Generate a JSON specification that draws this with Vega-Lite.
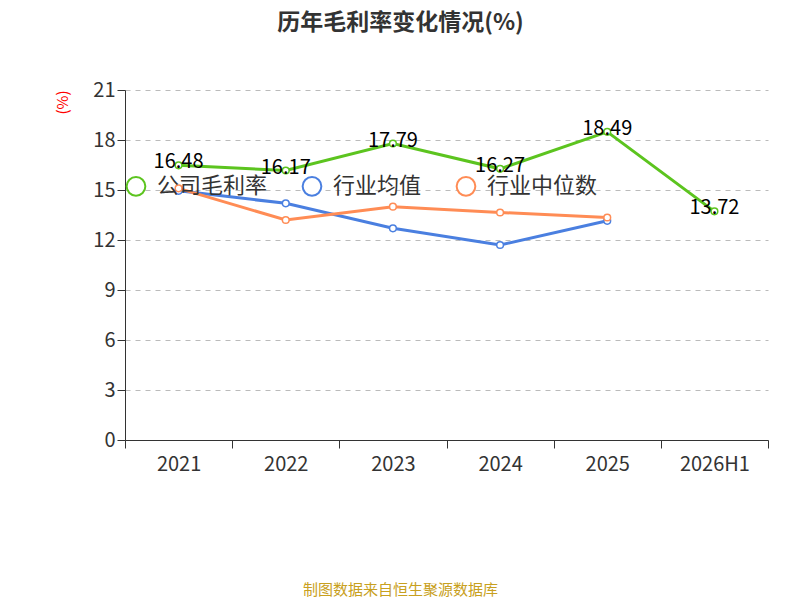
{
"$schema":"https://vega.github.io/schema/vega-lite/v6.json",
"width":643,"height":350,
"autosize":{"type":"none"},
"padding":{"left":125,"top":90,"right":32,"bottom":160},
"background":"white",
"title":{"text":"历年毛利率变化情况(%)","fontSize":23,"font":"Noto Sans CJK SC","fontWeight":"bold","color":"#333","offset":45,"dx":-46},
"config":{"font":"Noto Sans CJK SC","view":{"stroke":null}},
"data":{"values":[
{"year":"2021","s":"公司毛利率","v":16.48},{"year":"2022","s":"公司毛利率","v":16.17},{"year":"2023","s":"公司毛利率","v":17.79},{"year":"2024","s":"公司毛利率","v":16.27},{"year":"2025","s":"公司毛利率","v":18.49},{"year":"2026H1","s":"公司毛利率","v":13.72},
{"year":"2021","s":"行业均值","v":14.95},{"year":"2022","s":"行业均值","v":14.2},{"year":"2023","s":"行业均值","v":12.7},{"year":"2024","s":"行业均值","v":11.7},{"year":"2025","s":"行业均值","v":13.15},
{"year":"2021","s":"行业中位数","v":15.1},{"year":"2022","s":"行业中位数","v":13.2},{"year":"2023","s":"行业中位数","v":14.0},{"year":"2024","s":"行业中位数","v":13.65},{"year":"2025","s":"行业中位数","v":13.35}
]},
"encoding":{
"x":{"field":"year","type":"nominal","sort":null,"axis":{"labelAngle":0,"labelFontSize":20,"labelColor":"#333","tickBand":"extent","tickSize":8,"domainColor":"#333","tickColor":"#333","title":"制图数据来自恒生聚源数据库","titleColor":"#c8a020","titleFontSize":15,"titleFontWeight":"normal","titlePadding":108,"titleX":275,"labelPadding":6}},
"y":{"field":"v","type":"quantitative","scale":{"domain":[0,21]},"axis":{"values":[0,3,6,9,12,15,18,21],"labelFontSize":20,"labelColor":"#333","gridDash":[5,5],"gridColor":"#bbb","domainColor":"#333","tickColor":"#333","tickSize":8,"title":"(%)","titleColor":"red","titleFontSize":15,"titleFontWeight":"normal","titleAngle":-90,"titleAlign":"right","titleY":0,"titleX":-55}},
"color":{"field":"s","type":"nominal","sort":["公司毛利率","行业均值","行业中位数"],"scale":{"domain":["公司毛利率","行业均值","行业中位数"],"range":["#5cc41f","#4a7fe0","#ff8c55"]},
"legend":{"title":null,"orient":"none","direction":"horizontal","legendX":0,"legendY":85,"labelFontSize":22,"labelColor":"#333","symbolType":"circle","symbolSize":350,"symbolStrokeWidth":2,"symbolFillColor":"white","columnPadding":30,"labelOffset":10}}
},
"layer":[
{"mark":{"type":"line","strokeWidth":3}},
{"mark":{"type":"point","filled":false,"fill":"white","fillOpacity":1,"size":45,"strokeWidth":1.5,"opacity":1}},
{"transform":[{"filter":"datum.s=='公司毛利率'"}],"mark":{"type":"text","fontSize":20,"dy":-3},"encoding":{"text":{"field":"v","format":".2f"},"color":{"value":"black"}}}
]
}
